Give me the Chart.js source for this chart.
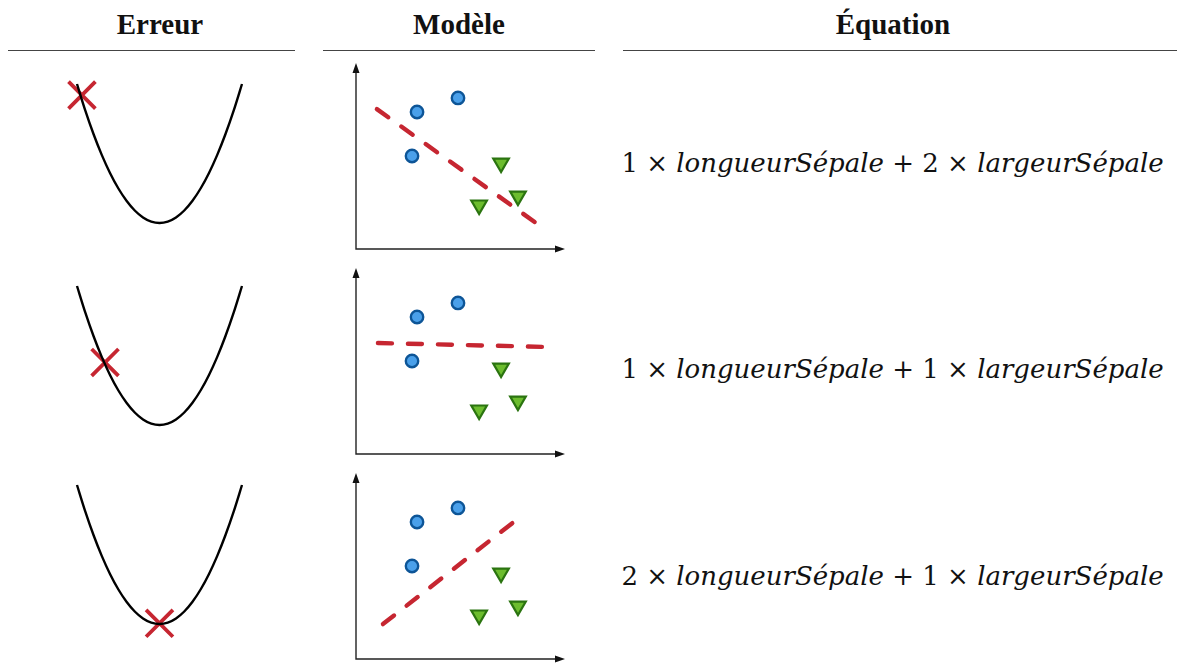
<!DOCTYPE html>
<html>
<head>
<meta charset="utf-8">
<script src="https://cdn.jsdelivr.net/npm/chart.js@4/dist/chart.umd.min.js"></script>
<style>
  html, body { margin: 0; padding: 0; background: #fff; overflow: hidden; }
  body { width: 1185px; height: 664px; position: relative; }
  canvas { position: absolute; }
  .head { position: absolute; top: 8px; font: bold 29px "Liberation Serif", serif; color: #111; text-align: center; }
  .rule { position: absolute; top: 50px; height: 0; border-top: 1.3px solid #444; }
  .eq { position: absolute; left: 610px; width: 565px; text-align: center; font: 26px "DejaVu Serif", serif; color: #111; white-space: nowrap; }
  .eq i { font-style: italic; }
</style>
</head>
<body>
<script>
// column headers
const headers = ['Erreur', 'Modèle', 'Équation'];
// error curve (x 0..10, y 0..10)
const errX = [0, 0.5, 1, 1.5, 2, 2.5, 3, 3.5, 4, 4.5, 5, 5.5, 6, 6.5, 7, 7.5, 8, 8.5, 9, 9.5, 10];
const errY = [10, 8.1, 6.4, 4.9, 3.6, 2.5, 1.6, 0.9, 0.4, 0.1, 0, 0.1, 0.4, 0.9, 1.6, 2.5, 3.6, 4.9, 6.4, 8.1, 10];
// position of the red cross on each curve
const crossX = [0.3, 1.7, 5.0];
const crossY = [9.2, 4.5, 0.05];
// the two classes of the model panel (same in each row)
const circleX = [2.92, 4.88, 2.68];
const circleY = [6.63, 7.31, 4.50];
const triX = [6.94, 7.75, 5.89];
const triY = [4.16, 2.56, 2.13];
// dashed separating line per row
const lineX = [[1.0, 8.61], [1.05, 9.14], [1.29, 7.61]];
const lineY = [[6.77, 1.26], [5.37, 5.18], [1.69, 6.68]];
// weights of longueurSépale and largeurSépale per row
const weightLong = [1, 1, 2];
const weightLarg = [2, 1, 1];

const RED = '#c62631';

const axisArrows = {
    id: 'axisArrows',
    beforeDatasetsDraw(chart) {
        const {ctx, chartArea: a} = chart;
        ctx.save();
        ctx.strokeStyle = '#222';
        ctx.fillStyle = '#111';
        ctx.lineWidth = 1.4;
        ctx.beginPath();
        ctx.moveTo(a.left, a.top + 6);
        ctx.lineTo(a.left, a.bottom);
        ctx.lineTo(a.right - 6, a.bottom);
        ctx.stroke();
        ctx.beginPath();
        ctx.moveTo(a.left, a.top);
        ctx.lineTo(a.left - 3.5, a.top + 10);
        ctx.lineTo(a.left + 3.5, a.top + 10);
        ctx.closePath();
        ctx.moveTo(a.right, a.bottom);
        ctx.lineTo(a.right - 10, a.bottom - 3.5);
        ctx.lineTo(a.right - 10, a.bottom + 3.5);
        ctx.closePath();
        ctx.fill();
        ctx.restore();
    }
};

const addCanvas = (left, top, w, h) => {
    const c = document.createElement('canvas');
    c.width = w;
    c.height = h;
    c.style.left = left + 'px';
    c.style.top = top + 'px';
    document.body.appendChild(c);
    return c.getContext('2d');
};

const baseOptions = (pad, xMax, yMax) => ({
    responsive: false,
    animation: false,
    layout: {padding: pad},
    plugins: {legend: {display: false}, tooltip: {enabled: false}},
    scales: {
        x: {type: 'linear', min: 0, max: xMax, display: false},
        y: {type: 'linear', min: 0, max: yMax, display: false}
    }
});

// headers and rules
const headCenters = [160, 459, 893];
const rules = [[8, 295], [323, 595], [623, 1177]];
headers.forEach((h, i) => {
    const d = document.createElement('div');
    d.className = 'head';
    d.style.left = (headCenters[i] - 100) + 'px';
    d.style.width = '200px';
    d.textContent = h;
    document.body.appendChild(d);
    const r = document.createElement('div');
    r.className = 'rule';
    r.style.left = rules[i][0] + 'px';
    r.style.width = (rules[i][1] - rules[i][0]) + 'px';
    document.body.appendChild(r);
});

const errTops = [84, 286, 485];
const modelBottoms = [249, 454, 659];
const eqCenters = [165, 371, 578];
const ERR_PAD = 30;

for (let row = 0; row < 3; row++) {
    // error curve panel
    const errCtx = addCanvas(77 - ERR_PAD, errTops[row] - ERR_PAD, 165 + 2 * ERR_PAD, 139 + 2 * ERR_PAD);
    new Chart(errCtx, {
        type: 'scatter',
        data: {
            datasets: [{
                data: errX.map((x, i) => ({x, y: errY[i]})),
                showLine: true,
                tension: 0.3,
                borderColor: '#000',
                borderWidth: 2.4,
                pointRadius: 0,
                clip: false
            }, {
                data: [{x: crossX[row], y: crossY[row]}],
                pointStyle: 'crossRot',
                pointRadius: 19,
                pointBorderWidth: 3.8,
                pointBorderColor: RED,
                borderColor: RED,
                clip: false
            }]
        },
        options: baseOptions(ERR_PAD, 10, 10)
    });

    // model panel
    const top = modelBottoms[row] - 186;
    const modelCtx = addCanvas(356 - 16, top - 16, 209 + 32, 186 + 32);
    new Chart(modelCtx, {
        type: 'scatter',
        data: {
            datasets: [{
                data: lineX[row].map((x, i) => ({x, y: lineY[row][i]})),
                showLine: true,
                borderColor: RED,
                borderWidth: 4.4,
                borderDash: [14, 16],
                borderCapStyle: 'round',
                pointRadius: 0,
                clip: false
            }, {
                data: circleX.map((x, i) => ({x, y: circleY[i]})),
                pointStyle: 'circle',
                pointRadius: 6.2,
                pointBorderWidth: 2.4,
                backgroundColor: '#4aa0ea',
                borderColor: '#0d5597',
                clip: false
            }, {
                data: triX.map((x, i) => ({x, y: triY[i]})),
                pointStyle: 'triangle',
                pointRotation: 180,
                pointRadius: 9,
                pointBorderWidth: 2.2,
                backgroundColor: '#6cbd2e',
                borderColor: '#2b7410',
                clip: false
            }]
        },
        options: baseOptions(16, 10, 9),
        plugins: [axisArrows]
    });

    // equation text
    const eq = document.createElement('div');
    eq.className = 'eq';
    eq.style.top = (eqCenters[row] - 17) + 'px';
    eq.innerHTML = weightLong[row] + ' × <i>longueurSépale</i> + ' + weightLarg[row] + ' × <i>largeurSépale</i>';
    document.body.appendChild(eq);
}
</script>
</body>
</html>
